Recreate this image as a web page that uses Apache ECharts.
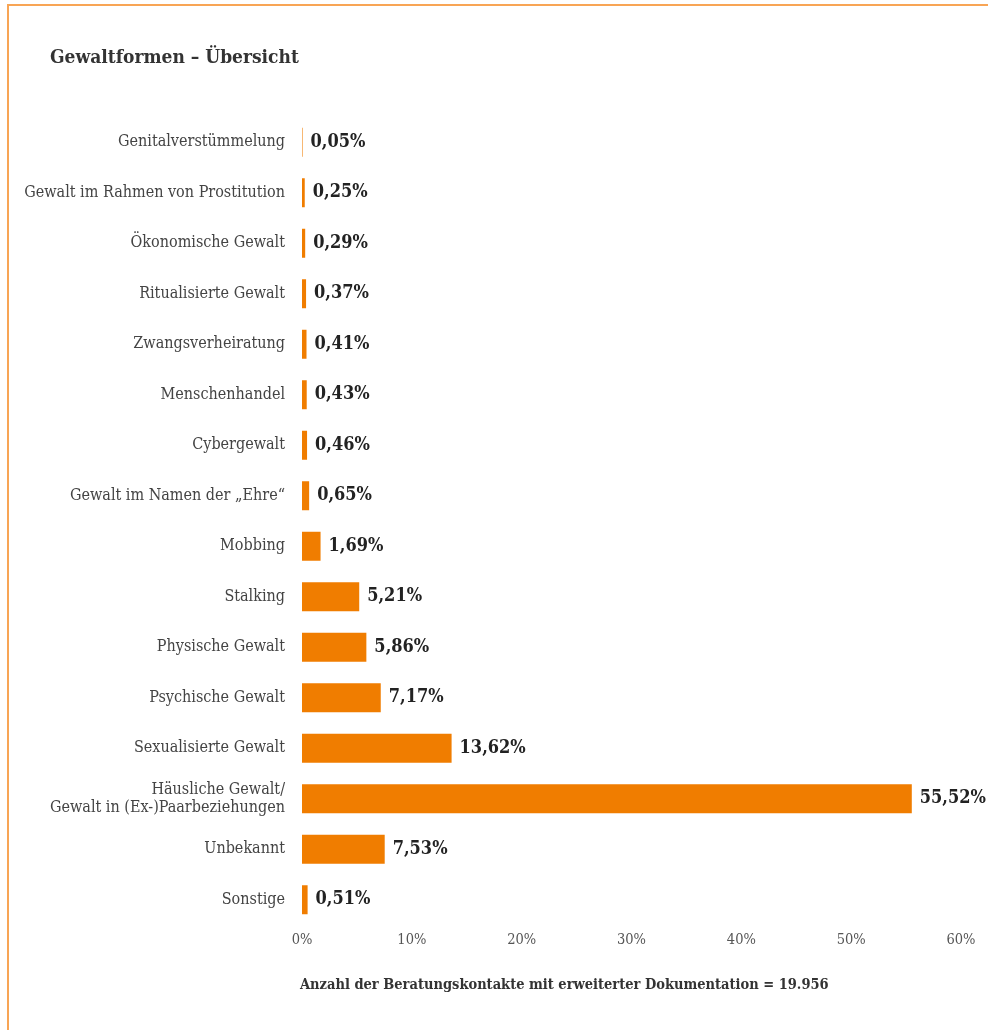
<!DOCTYPE html>
<html>
<head>
<meta charset="utf-8">
<script src="https://cdn.jsdelivr.net/npm/echarts@6/dist/echarts.min.js"></script>
<style>
html,body{margin:0;padding:0;background:#fff;}
#chart{width:988px;height:1030px;}
</style>
</head>
<body>
<div id="chart"></div>
<script>
const categories = [
  'Genitalverstümmelung',
  'Gewalt im Rahmen von Prostitution',
  'Ökonomische Gewalt',
  'Ritualisierte Gewalt',
  'Zwangsverheiratung',
  'Menschenhandel',
  'Cybergewalt',
  'Gewalt im Namen der „Ehre“',
  'Mobbing',
  'Stalking',
  'Physische Gewalt',
  'Psychische Gewalt',
  'Sexualisierte Gewalt',
  'Häusliche Gewalt/\nGewalt in (Ex-)Paarbeziehungen',
  'Unbekannt',
  'Sonstige'
];
const values = [0.05, 0.25, 0.29, 0.37, 0.41, 0.43, 0.46, 0.65, 1.69, 5.21, 5.86, 7.17, 13.62, 55.52, 7.53, 0.51];
const xTicks = [0, 10, 20, 30, 40, 50, 60];
const titleText = 'Gewaltformen – Übersicht';
const footerText = 'Anzahl der Beratungskontakte mit erweiterter Dokumentation = 19.956';

const FONT = '"DejaVu Serif Condensed", "Liberation Serif", serif';
const chart = echarts.init(document.getElementById('chart'));
chart.setOption({
  animation: false,
  backgroundColor: '#fff',
  title: {
    text: titleText,
    left: 45, top: 44,
    textStyle: { fontFamily: FONT, fontSize: 19, fontWeight: 'bold', color: '#333' }
  },
  graphic: [
    { type: 'polyline', shape: { points: [[8, 1030], [8, 5], [988, 5]] },
      style: { stroke: '#f8a555', lineWidth: 2, fill: null } },
    { type: 'text', left: 300, top: 978,
      style: { text: footerText, font: 'bold 14.5px ' + FONT, fill: '#333' } }
  ],
  grid: { left: 302, right: 27, top: 117, bottom: 105, containLabel: false },
  xAxis: {
    type: 'value', min: xTicks[0], max: xTicks[xTicks.length - 1], interval: 10,
    axisLine: { show: false }, axisTick: { show: false }, splitLine: { show: false },
    axisLabel: { formatter: v => v + '%', fontFamily: FONT, fontSize: 14.5, color: '#555', margin: 8 }
  },
  yAxis: {
    type: 'category', data: categories, inverse: true,
    axisLine: { show: false }, axisTick: { show: false },
    axisLabel: { fontFamily: FONT, fontSize: 16, color: '#444', margin: 17, align: 'right', lineHeight: 18 }
  },
  series: [{
    type: 'bar', data: values, barWidth: 29,
    itemStyle: { color: '#f07d00' },
    label: {
      show: true, position: 'right', distance: 8,
      formatter: p => p.value.toFixed(2).replace('.', ',') + '%',
      fontFamily: FONT, fontSize: 18, fontWeight: 'bold', color: '#222'
    }
  }]
});
</script>
</body>
</html>
